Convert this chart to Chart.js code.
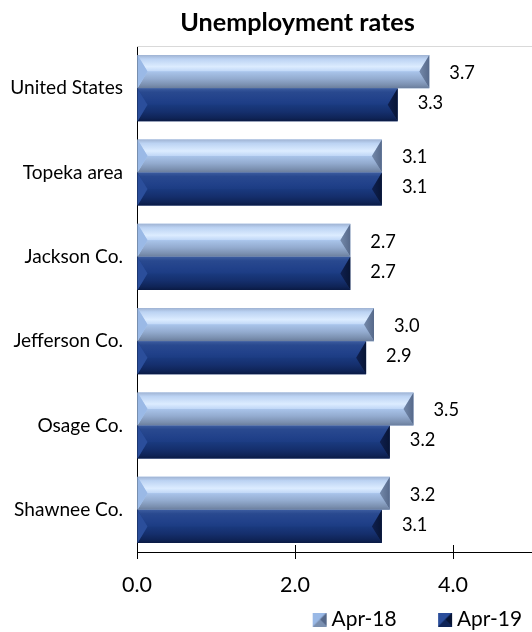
<!DOCTYPE html>
<html>
<head>
<meta charset="utf-8">
<script src="https://cdn.jsdelivr.net/npm/chart.js@4.4.1/dist/chart.umd.min.js"></script>
<style>
  html, body { margin: 0; padding: 0; background: #fff; overflow: hidden; }
  #wrap { width: 532px; height: 632px; position: relative; overflow: hidden; }
  #inner { width: 532px; height: 640px; position: relative; }
</style>
</head>
<body>
<div id="wrap"><div id="inner"><canvas id="c"></canvas></div></div>
<script>
// ---- data ----
const categories = ['United States', 'Topeka area', 'Jackson Co.', 'Jefferson Co.', 'Osage Co.', 'Shawnee Co.'];
const seriesNames = ['Apr-18', 'Apr-19'];
const apr18 = [3.7, 3.1, 2.7, 3.0, 3.5, 3.2];
const apr19 = [3.3, 3.1, 2.7, 2.9, 3.2, 3.1];
const xTickValues = [0, 2, 4];
const titleText = 'Unemployment rates';

// ---- font fitting (Calibri-like look with installed fonts) ----
const FAMILY = 'Lato, "Open Sans", sans-serif';
const mctx = document.createElement('canvas').getContext('2d');
function fit(text, weight, target) {
  mctx.font = weight + ' 100px ' + FAMILY;
  const w = mctx.measureText(text).width;
  return Math.round(100 * target / w * 10) / 10;
}
const fsTitle = fit(titleText, 'bold', 235);
const fsCat = fit('United States', 'normal', 113);
const fsTick = fit('0.0', 'normal', 30);
const fsLegend = fit('Apr-18', 'normal', 65);
const fsValue = fit('3.7', 'normal', 25.5);

// ---- styles ----
const styles = [
  { // light
    base: '#a9c5ee',
    top: [[0, '#9fb3d3'], [0.12, '#bcd3f3'], [0.35, '#dcecff'], [0.5, '#bfd6f6']],
    bottom: [[0.5, '#a9c4ea'], [0.72, '#93abcf'], [0.9, '#7b90b0'], [1, '#6a7d9c']],
    left: '#9ab9e6', right: ['#7489aa', '#56698a']
  },
  { // dark
    base: '#1c3c82',
    top: [[0, '#3c5c9f'], [0.12, '#29498f'], [0.35, '#21418a'], [0.5, '#1c3c83']],
    bottom: [[0.5, '#1a3a7f'], [0.72, '#152f6d'], [0.9, '#0f2457'], [1, '#0a1a44']],
    left: '#2b4e9b', right: ['#0f2050', '#081535']
  }
];

function grad(ctx, y0, y1, stops) {
  const g = ctx.createLinearGradient(0, y0, 0, y1);
  stops.forEach(([p, c]) => g.addColorStop(p, c));
  return g;
}

const bevelPlugin = {
  id: 'bevel',
  afterDatasetsDraw(chart) {
    const ctx = chart.ctx;
    chart.data.datasets.forEach((ds, di) => {
      const meta = chart.getDatasetMeta(di);
      const st = styles[di];
      meta.data.forEach((el) => {
        const p = el.getProps(['x', 'y', 'base', 'height'], true);
        const L = Math.min(p.base, p.x), R = Math.max(p.base, p.x);
        const T = p.y - p.height / 2, B = p.y + p.height / 2, M = p.y;
        const b = Math.min(10, (R - L) / 2);
        ctx.save();
        ctx.beginPath();
        ctx.moveTo(L, T); ctx.lineTo(R, T); ctx.lineTo(R - b, M); ctx.lineTo(L + b, M); ctx.closePath();
        ctx.fillStyle = grad(ctx, T, B, st.top);
        ctx.fill();
        ctx.beginPath();
        ctx.moveTo(L, B); ctx.lineTo(R, B); ctx.lineTo(R - b, M); ctx.lineTo(L + b, M); ctx.closePath();
        ctx.fillStyle = grad(ctx, T, B, st.bottom);
        ctx.fill();
        ctx.beginPath();
        ctx.moveTo(L, T); ctx.lineTo(L + b, M); ctx.lineTo(L, B); ctx.closePath();
        ctx.fillStyle = st.left;
        ctx.fill();
        ctx.beginPath();
        ctx.moveTo(R, T); ctx.lineTo(R - b, M); ctx.lineTo(R, B); ctx.closePath();
        const gr = ctx.createLinearGradient(R - b, 0, R, 0);
        gr.addColorStop(0, st.right[0]); gr.addColorStop(1, st.right[1]);
        ctx.fillStyle = gr;
        ctx.fill();
        ctx.restore();
      });
    });
  }
};

const valueLabelPlugin = {
  id: 'valueLabels',
  afterDatasetsDraw(chart) {
    const ctx = chart.ctx;
    ctx.save();
    ctx.font = 'normal ' + fsValue + 'px ' + FAMILY;
    ctx.fillStyle = '#000';
    ctx.textAlign = 'left';
    ctx.textBaseline = 'middle';
    chart.data.datasets.forEach((ds, di) => {
      const meta = chart.getDatasetMeta(di);
      meta.data.forEach((el, i) => {
        const p = el.getProps(['x', 'y'], true);
        ctx.fillText(Number(ds.data[i]).toFixed(1), p.x + 20, p.y + (di === 0 ? 1.5 : -1.5));
      });
    });
    ctx.restore();
  }
};

const framePlugin = {
  id: 'frame',
  beforeDatasetsDraw(chart) {
    const { ctx, chartArea } = chart;
    ctx.save();
    ctx.strokeStyle = '#d9d9d9';
    ctx.lineWidth = 1;
    ctx.beginPath();
    ctx.moveTo(chartArea.left, chartArea.top + 0.5);
    ctx.lineTo(chartArea.right, chartArea.top + 0.5);
    ctx.stroke();
    ctx.restore();
  },
  afterDraw(chart) {
    const { ctx, chartArea, scales } = chart;
    ctx.save();
    ctx.strokeStyle = '#000';
    ctx.lineWidth = 1;
    scales.x.ticks.forEach((t) => {
      const px = Math.round(scales.x.getPixelForValue(t.value)) + 0.5;
      ctx.beginPath();
      ctx.moveTo(px, chartArea.bottom);
      ctx.lineTo(px, chartArea.bottom - 7);
      ctx.stroke();
    });
    ctx.font = 'bold ' + fsTitle + 'px ' + FAMILY;
    ctx.fillStyle = '#000';
    ctx.textAlign = 'center';
    ctx.textBaseline = 'alphabetic';
    ctx.fillText(titleText, 297.5, 31);
    ctx.restore();
  }
};

// legend geometry: box slot BOX wide, marker sits 5px left of the text
const BOX = 40;
function markerCanvas(st) {
  const half = fsLegend / 2;
  const W = Math.ceil(2 * (BOX / 2 + half - 5)) + 2;
  const c = document.createElement('canvas');
  c.width = W; c.height = 14;
  const x = c.getContext('2d');
  const mx = Math.round((BOX + half - 19) - (BOX / 2 - W / 2));
  x.translate(mx, 0);
  x.fillStyle = st.base;
  x.fillRect(0, 0, 14, 14);
  x.beginPath(); x.moveTo(0, 0); x.lineTo(14, 0); x.lineTo(7, 7); x.lineTo(0, 14); x.closePath();
  x.fillStyle = st.left; x.fill();
  x.beginPath(); x.moveTo(14, 0); x.lineTo(14, 14); x.lineTo(7, 7); x.closePath();
  x.fillStyle = st.right[1]; x.fill();
  x.beginPath(); x.moveTo(0, 14); x.lineTo(14, 14); x.lineTo(7, 7); x.closePath();
  x.fillStyle = st.bottom[2][1]; x.fill();
  return c;
}
const markers = styles.map(markerCanvas);

const chart = new Chart(document.getElementById('c'), {
  type: 'bar',
  data: {
    labels: categories,
    datasets: [
      { label: seriesNames[0], data: apr18, backgroundColor: styles[0].base, borderWidth: 0 },
      { label: seriesNames[1], data: apr19, backgroundColor: styles[1].base, borderWidth: 0 }
    ]
  },
  options: {
    indexAxis: 'y',
    responsive: true,
    maintainAspectRatio: false,
    animation: false,
    devicePixelRatio: 1,
    layout: { padding: { top: 46, right: 0, left: 0, bottom: 0 } },
    datasets: { bar: { categoryPercentage: 0.785, barPercentage: 1.0 } },
    scales: {
      x: {
        min: 0, max: 5,
        afterBuildTicks(scale) { scale.ticks = xTickValues.map(v => ({ value: v })); },
        afterFit(scale) { scale.height = 640 - 10 - fsLegend - 10 - 552; },
        grid: { drawOnChartArea: false, drawTicks: true, tickLength: 7, color: '#000' },
        border: { display: true, color: '#000', width: 1 },
        ticks: {
          padding: 13,
          color: '#000',
          font: { family: FAMILY, size: fsTick },
          callback: (v) => Number(v).toFixed(1),
          maxRotation: 0
        }
      },
      y: {
        afterFit(scale) { scale.width = 137; },
        grid: { display: true, drawOnChartArea: false, drawTicks: false },
        border: { display: true, color: '#000', width: 1 },
        ticks: { padding: 14, color: '#000', font: { family: FAMILY, size: fsCat } }
      }
    },
    plugins: {
      title: { display: false },
      tooltip: { enabled: false },
      legend: {
        position: 'bottom',
        align: 'end',
        labels: {
          usePointStyle: true,
          boxWidth: BOX,
          pointStyleWidth: BOX,
          boxHeight: 14,
          padding: 10,
          color: '#000',
          font: { family: FAMILY, size: fsLegend },
          generateLabels(ch) {
            return ch.data.datasets.map((ds, i) => ({
              text: ds.label,
              pointStyle: markers[i],
              fillStyle: styles[i].base,
              strokeStyle: styles[i].base,
              lineWidth: 0,
              hidden: false,
              datasetIndex: i,
              fontColor: '#000'
            }));
          }
        }
      }
    }
  },
  plugins: [framePlugin, bevelPlugin, valueLabelPlugin]
});
</script>
</body>
</html>
